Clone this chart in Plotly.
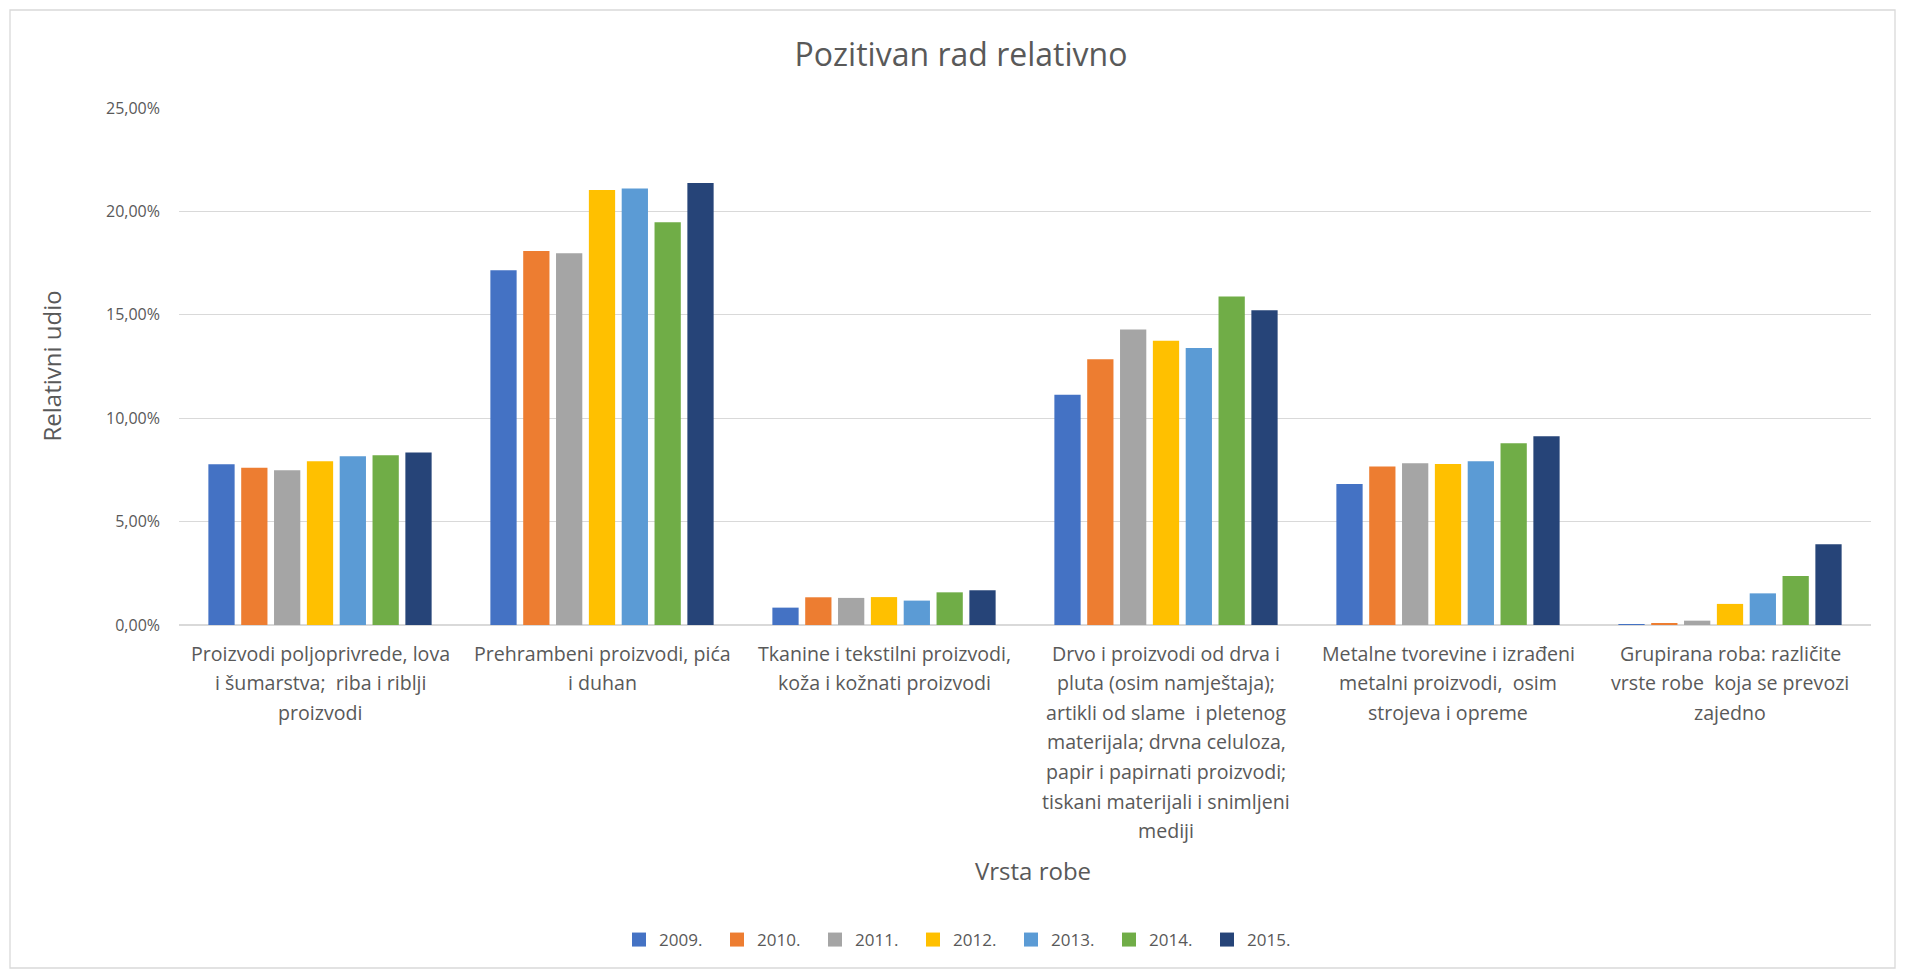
import plotly.graph_objects as go

categories = [
    "Proizvodi poljoprivrede, lova<br>i šumarstva;  riba i riblji<br>proizvodi",
    "Prehrambeni proizvodi, pića<br>i duhan",
    "Tkanine i tekstilni proizvodi,<br>koža i kožnati proizvodi",
    "Drvo i proizvodi od drva i<br>pluta (osim namještaja);<br>artikli od slame  i pletenog<br>materijala; drvna celuloza,<br>papir i papirnati proizvodi;<br>tiskani materijali i snimljeni<br>mediji",
    "Metalne tvorevine i izrađeni<br>metalni proizvodi,  osim<br>strojeva i opreme",
    "Grupirana roba: različite<br>vrste robe  koja se prevozi<br>zajedno",
]
cat_keys = ["c1", "c2", "c3", "c4", "c5", "c6"]

years = ["2009.", "2010.", "2011.", "2012.", "2013.", "2014.", "2015."]

v2009 = [0.0777, 0.1715, 0.0084, 0.1113, 0.0682, 0.0003]
v2010 = [0.0761, 0.1808, 0.0134, 0.1285, 0.0766, 0.0008]
v2011 = [0.0748, 0.1798, 0.0131, 0.1429, 0.0782, 0.0021]
v2012 = [0.0792, 0.2103, 0.0135, 0.1374, 0.0779, 0.0102]
v2013 = [0.0816, 0.2111, 0.0118, 0.1339, 0.0792, 0.0153]
v2014 = [0.0821, 0.1948, 0.0158, 0.1588, 0.0879, 0.0237]
v2015 = [0.0834, 0.2137, 0.0168, 0.1522, 0.0913, 0.0390]

series = [v2009, v2010, v2011, v2012, v2013, v2014, v2015]
colors = ["#4472C4", "#ED7D31", "#A5A5A5", "#FFC000", "#5B9BD5", "#70AD47", "#264478"]

yticks = [0, 0.05, 0.10, 0.15, 0.20, 0.25]
ytick_labels = ["0,00%", "5,00%", "10,00%", "15,00%", "20,00%", "25,00%"]

FONT = "Open Sans"
GREY = "#595959"

W, H = 1905, 977
L, R, T, B = 179, 34, 108, 352
PW, PH = W - L - R, H - T - B

fig = go.Figure()
for name, vals, col in zip(years, series, colors):
    fig.add_trace(go.Bar(x=cat_keys, y=vals, name=name, showlegend=False,
                         marker=dict(color=col, line=dict(width=0))))
# legend entries (square keys like the original)
for name, col in zip(years, colors):
    fig.add_trace(go.Scatter(x=[None], y=[None], mode="markers", name=name,
                             marker=dict(symbol="square", size=14, color=col)))

fig.update_layout(
    width=W, height=H,
    margin=dict(l=L, r=R, t=T, b=B),
    paper_bgcolor="white", plot_bgcolor="white",
    barmode="group", bargap=0.185, bargroupgap=0.2,
    font=dict(family=FONT, color=GREY, size=16),
    title=dict(text="Pozitivan rad relativno", x=961 / W, xref="container", xanchor="center",
               y=1 - 55 / H, yref="container", yanchor="middle",
               font=dict(family=FONT, size=32, color=GREY)),
    showlegend=True,
    legend=dict(orientation="h", xref="container", yref="container", x=0.505, xanchor="center",
                y=1 - 940 / H, yanchor="middle", font=dict(family=FONT, size=17, color=GREY),
                itemwidth=30, itemsizing="trace", traceorder="normal",
                entrywidth=53, entrywidthmode="pixels"),
)

fig.update_xaxes(showticklabels=False, showgrid=False, showline=False, zeroline=False,
                 categoryorder="array", categoryarray=cat_keys)
fig.update_yaxes(range=[0, 0.25], tickvals=yticks, ticktext=ytick_labels,
                 showgrid=True, gridcolor="#D9D9D9", gridwidth=1.3,
                 zeroline=True, zerolinecolor="#D9D9D9", zerolinewidth=1.8,
                 showline=False, ticks="", ticklabelstandoff=18,
                 tickfont=dict(family=FONT, size=16, color=GREY))

# category labels, one line at a time (Excel-like line spacing)
line_gap = 29.6
first = 28
for key, lab in zip(cat_keys, categories):
    for i, line in enumerate(lab.split("<br>")):
        fig.add_annotation(x=key, xref="x", y=0, yref="paper", text=line, showarrow=False,
                           xanchor="center", yanchor="middle", yshift=-(first + i * line_gap),
                           font=dict(family=FONT, size=19.6, color=GREY))

# axis titles
fig.add_annotation(text="Vrsta robe", x=(1033 - L) / PW, xref="paper", y=0, yref="paper",
                   yshift=-(870 - (H - B)), showarrow=False, xanchor="center", yanchor="middle",
                   font=dict(family=FONT, size=24, color=GREY))
fig.add_annotation(text="Relativni udio", x=(51 - L) / PW, xref="paper", y=0.5, yref="paper",
                   textangle=-90, showarrow=False, xanchor="center", yanchor="middle",
                   font=dict(family=FONT, size=24, color=GREY))

# chart frame
fig.add_shape(type="rect", xref="paper", yref="paper",
              x0=(10 - L) / PW, x1=(1895 - L) / PW,
              y0=((H - B) - 968) / PH, y1=((H - B) - 10) / PH,
              line=dict(color="#D9D9D9", width=1.3), fillcolor="rgba(0,0,0,0)", layer="below")

fig.write_html("out.html", config={"displayModeBar": False},
               post_script="document.body.style.margin='0';")
